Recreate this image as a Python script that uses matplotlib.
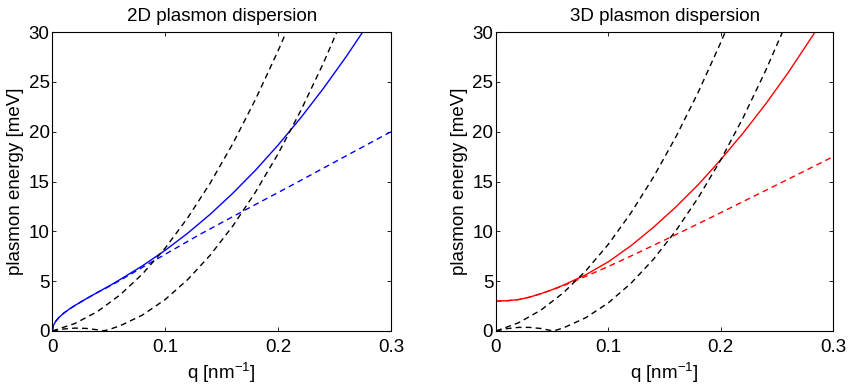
import numpy as np
import matplotlib
matplotlib.use("Agg")
import matplotlib.pyplot as plt

plt.rcParams["font.family"] = ["Liberation Sans", "DejaVu Sans"]
plt.rcParams["mathtext.default"] = "regular"

# ---- 2D panel ----
q2_plasmon = [0, 0.001, 0.003, 0.006, 0.01, 0.015, 0.02, 0.03, 0.04, 0.05,
              0.06, 0.08, 0.1, 0.12, 0.14, 0.16, 0.18, 0.2, 0.22, 0.24,
              0.26, 0.28]
E2_plasmon = [0, 0.56, 0.97, 1.37, 1.78, 2.19, 2.56, 3.23, 3.87, 4.50,
              5.16, 6.55, 8.10, 9.82, 11.73, 13.84, 16.14, 18.66, 21.39, 24.33,
              27.49, 30.86]
q2_approx = [0, 0.001, 0.003, 0.006, 0.01, 0.015, 0.02, 0.03, 0.04, 0.05,
             0.06, 0.08, 0.1, 0.13, 0.166, 0.19, 0.21, 0.25, 0.3]
E2_approx = [0, 0.56, 0.97, 1.37, 1.78, 2.19, 2.56, 3.23, 3.87, 4.45,
             5.08, 6.4, 7.7, 9.65, 11.85, 13.3, 14.5, 16.95, 20.0]
q2_upper = [0, 0.02, 0.04, 0.06, 0.08, 0.1, 0.12, 0.14, 0.16, 0.18, 0.2, 0.21]
E2_upper = [0, 0.75, 1.95, 3.62, 5.74, 8.32, 11.37, 14.87, 18.83, 23.25, 28.13, 30.74]
q2_lower = [0, 0.01, 0.02, 0.03, 0.04, 0.045, 0.05, 0.06, 0.08, 0.1, 0.12,
            0.14, 0.16, 0.18, 0.2, 0.22, 0.24, 0.26]
E2_lower = [0, 0.20, 0.29, 0.26, 0.12, 0, 0.14, 0.52, 1.61, 3.16, 5.17,
            7.63, 10.56, 13.95, 17.79, 22.1, 26.86, 32.09]

# ---- 3D panel ----
q3_plasmon = [0, 0.01, 0.02, 0.03, 0.04, 0.05, 0.06, 0.08, 0.1, 0.12, 0.14,
              0.16, 0.18, 0.2, 0.22, 0.24, 0.26, 0.28, 0.29]
E3_plasmon = [3.0, 3.04, 3.15, 3.4, 3.75, 4.15, 4.6, 5.65, 6.95, 8.55, 10.4,
              12.45, 14.7, 17.2, 19.9, 22.8, 25.95, 29.35, 31.1]
q3_approx = [0, 0.01, 0.02, 0.03, 0.04, 0.05, 0.06, 0.08, 0.1, 0.12, 0.14,
             0.16, 0.18, 0.2, 0.22, 0.24, 0.26, 0.28, 0.3]
E3_approx = [3.0, 3.04, 3.15, 3.4, 3.75, 4.13, 4.55, 5.49, 6.48, 7.52, 8.59,
             9.67, 10.77, 11.88, 13.0, 14.12, 15.24, 16.37, 17.5]
q3_upper = [0, 0.02, 0.04, 0.06, 0.08, 0.1, 0.12, 0.14, 0.16, 0.18, 0.2, 0.21]
E3_upper = [0, 0.82, 2.10, 3.84, 6.05, 8.71, 11.84, 15.43, 19.48, 23.99, 28.97, 31.62]
q3_lower = [0, 0.01, 0.02, 0.03, 0.04, 0.051, 0.06, 0.08, 0.1, 0.12,
            0.14, 0.16, 0.18, 0.2, 0.22, 0.24, 0.26]
E3_lower = [0, 0.24, 0.36, 0.36, 0.25, 0, 0.31, 1.34, 2.83, 4.78,
            7.19, 10.06, 13.40, 17.19, 21.45, 26.17, 31.35]

xticks = [0, 0.1, 0.2, 0.3]
xticklabels = ["0", "0.1", "0.2", "0.3"]
yticks = [0, 5, 10, 15, 20, 25, 30]

FS = 13.5
DASH = (4.2, 3.0)


def plotPanel(ax, title, qp, Ep, qa, Ea, qu, Eu, ql, El, color):
    ax.plot(qp, Ep, "-", color=color, lw=1.0)
    ax.plot(qa, Ea, "--", color=color, lw=1.0, dashes=DASH)
    ax.plot(qu, Eu, "--", color="k", lw=1.0, dashes=DASH)
    ax.plot(ql, El, "--", color="k", lw=1.0, dashes=DASH)
    ax.set_xlim(0, 0.3)
    ax.set_ylim(0, 30)
    ax.set_xticks(xticks, xticklabels)
    ax.set_yticks(yticks)
    ax.tick_params(direction="in", length=3, width=0.6, top=True, right=True,
                   labelsize=FS)
    ax.tick_params(axis="x", pad=6)
    ax.tick_params(axis="y", pad=2)
    for sp in ax.spines.values():
        sp.set_linewidth(0.8)
    ax.set_title(title, fontsize=FS, pad=8)
    ax.set_xlabel("q [nm$^{-1}$]", fontsize=FS, labelpad=3)
    ax.set_ylabel("plasmon energy [meV]", fontsize=FS, labelpad=3)


def main():
    fig = plt.figure(figsize=(8.49, 3.86), dpi=100)
    ax1 = fig.add_axes([0.0616, 0.1425, 0.399, 0.7745])
    ax2 = fig.add_axes([0.5842, 0.1425, 0.3973, 0.7745])
    plotPanel(ax1, "2D plasmon dispersion", q2_plasmon, E2_plasmon,
              q2_approx, E2_approx, q2_upper, E2_upper, q2_lower, E2_lower, "b")
    plotPanel(ax2, "3D plasmon dispersion", q3_plasmon, E3_plasmon,
              q3_approx, E3_approx, q3_upper, E3_upper, q3_lower, E3_lower, "r")
    fig.savefig("out.png", dpi=100)


if __name__ == "__main__":
    main()
